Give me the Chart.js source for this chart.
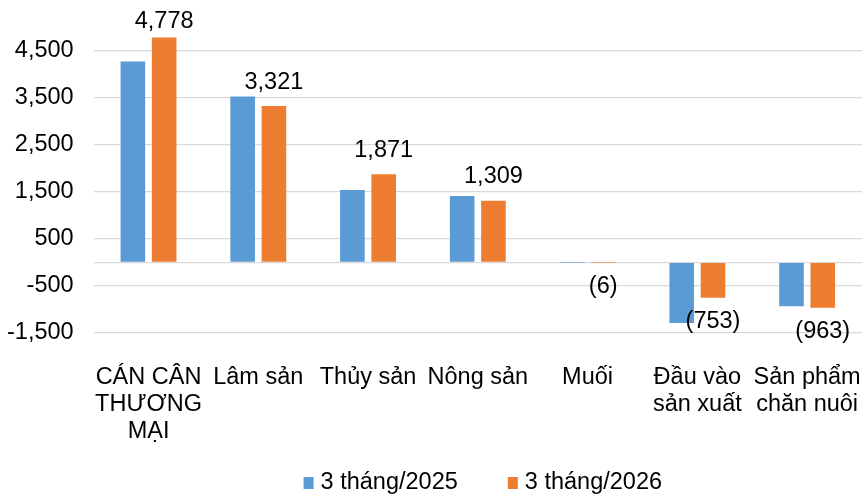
<!DOCTYPE html>
<html>
<head>
<meta charset="utf-8">
<script src="https://cdn.jsdelivr.net/npm/chart.js@4/dist/chart.umd.min.js"></script>
<style>
html,body{margin:0;padding:0;background:#fff;}
#wrap{width:862px;height:496px;position:relative;}
</style>
</head>
<body>
<div id="wrap"><canvas id="c"></canvas></div>
<script>
const categories = [
  ['CÁN CÂN', 'THƯƠNG', 'MẠI'],
  'Lâm sản',
  'Thủy sản',
  'Nông sản',
  'Muối',
  ['Đầu vào', 'sản xuất'],
  ['Sản phẩm', 'chăn nuôi']
];
const seriesNames = ['3 tháng/2025', '3 tháng/2026'];
const values2025 = [4265, 3525, 1535, 1410, -4, -1290, -935];
const values2026 = [4778, 3321, 1871, 1309, -6, -753, -963];
const yTicks = [-1500, -500, 0, 500, 1500, 2500, 3500, 4500];
const yMin = -1500;
const yMax = 5000;

const FONT = '"Liberation Sans", Arial, sans-serif';
const FS = 23.5;
const BLUE = '#5B9BD5';
const ORANGE = '#ED7D31';

function fmt(v) {
  const s = Math.abs(v).toLocaleString('en-US');
  return v < 0 ? '(' + s + ')' : s;
}

const labelPlugin = {
  id: 'valueLabels',
  afterDatasetsDraw(chart) {
    const ctx = chart.ctx;
    const meta = chart.getDatasetMeta(1);
    const ds = chart.data.datasets[1];
    ctx.save();
    ctx.font = FS + 'px ' + FONT;
    ctx.fillStyle = '#000';
    ctx.textAlign = 'center';
    ctx.textBaseline = 'middle';
    meta.data.forEach((el, i) => {
      const v = ds.data[i];
      let y = v >= 0 ? el.y - 24 : el.y + 24;
      if (y < chart.chartArea.top - 5) y = chart.chartArea.top - 5;
      ctx.fillText(fmt(v), el.x, y);
    });
    ctx.restore();
  }
};

const legendPlugin = {
  id: 'customLegend',
  afterDraw(chart) {
    const ctx = chart.ctx;
    ctx.save();
    ctx.font = FS + 'px ' + FONT;
    ctx.textBaseline = 'middle';
    ctx.textAlign = 'left';
    const box = 10, gap = 7, spacing = 50;
    const items = chart.data.datasets.map(d => ({text: d.label, color: d.backgroundColor, w: ctx.measureText(d.label).width}));
    let total = 0;
    items.forEach((it, i) => { total += box + gap + it.w + (i < items.length - 1 ? spacing : 0); });
    const ca = chart.chartArea;
    let x = (ca.left + ca.right) / 2 + 5 - total / 2;
    const y = 483;
    items.forEach(it => {
      ctx.fillStyle = it.color;
      ctx.fillRect(x, y - 6, box, 12);
      x += box + gap;
      ctx.fillStyle = '#000';
      ctx.fillText(it.text, x, y);
      x += it.w + spacing;
    });
    ctx.restore();
  }
};

function noPad(axis) {
  axis.paddingLeft = 0; axis.paddingRight = 0;
  axis.paddingTop = 0; axis.paddingBottom = 0;
}

new Chart(document.getElementById('c'), {
  type: 'bar',
  data: {
    labels: categories,
    datasets: [
      {label: seriesNames[0], data: values2025, backgroundColor: BLUE, categoryPercentage: 0.57, barPercentage: 0.786},
      {label: seriesNames[1], data: values2026, backgroundColor: ORANGE, categoryPercentage: 0.57, barPercentage: 0.786}
    ]
  },
  options: {
    responsive: true,
    maintainAspectRatio: false,
    animation: false,
    layout: {padding: {top: 27, left: 7, right: 0, bottom: 49}},
    plugins: {legend: {display: false}, tooltip: {enabled: false}},
    scales: {
      x: {
        afterFit: noPad,
        grid: {display: true, drawOnChartArea: false, drawTicks: true, tickLength: 29, tickColor: 'rgba(0,0,0,0)', color: 'rgba(0,0,0,0)'},
        border: {display: false},
        ticks: {
          color: '#000', font: {family: FONT, size: FS, lineHeight: 1.15},
          maxRotation: 0, minRotation: 0, autoSkip: false, padding: 2
        }
      },
      y: {
        min: yMin, max: yMax,
        afterFit: noPad,
        afterBuildTicks(axis) { axis.ticks = yTicks.map(v => ({value: v})); },
        grid: {color: '#d9d9d9', lineWidth: 1.2, drawTicks: true, tickLength: 20, tickColor: 'rgba(0,0,0,0)'},
        border: {display: false},
        ticks: {
          color: '#000', font: {family: FONT, size: FS}, padding: 0,
          callback: v => v === 0 ? '' : v.toLocaleString('en-US')
        }
      }
    }
  },
  plugins: [labelPlugin, legendPlugin]
});
</script>
</body>
</html>
